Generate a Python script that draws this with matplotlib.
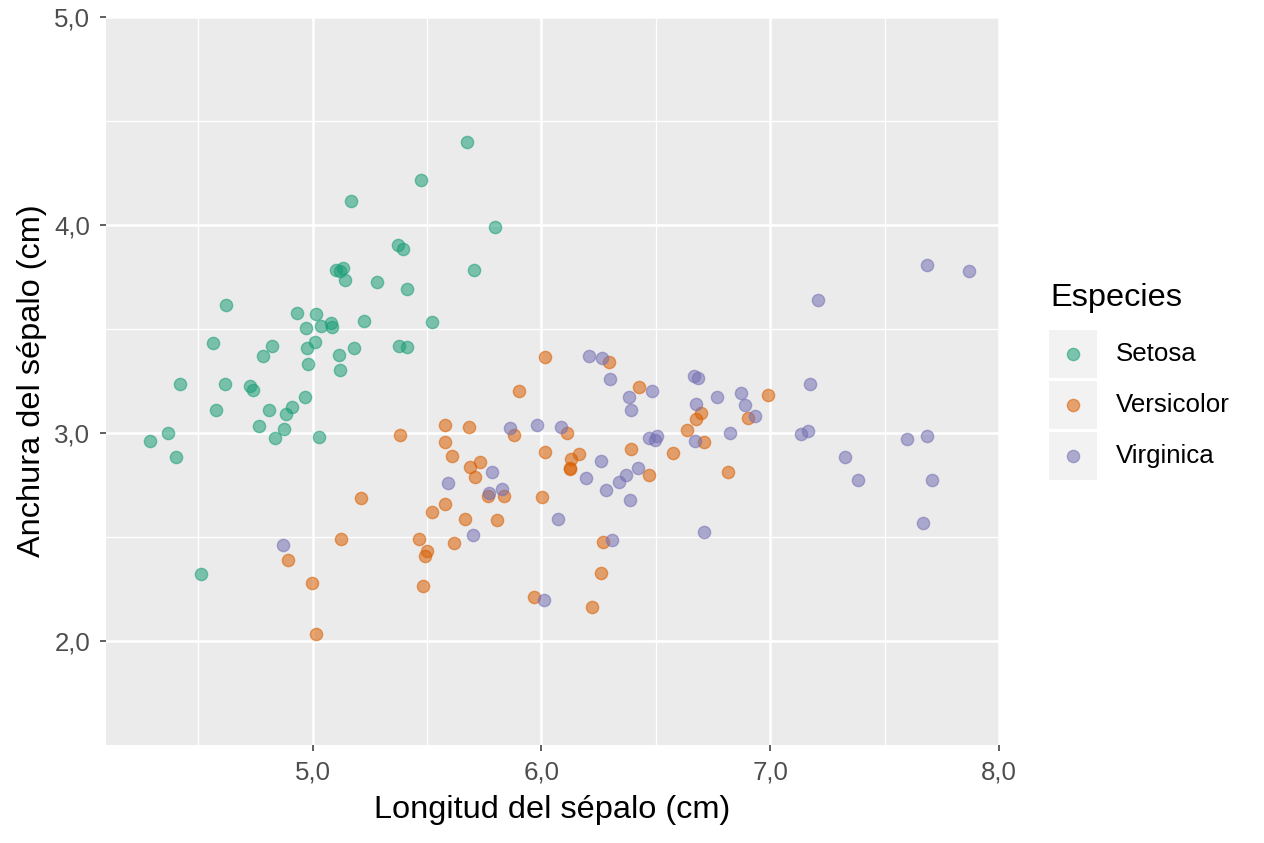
import numpy as np
import matplotlib
matplotlib.use("Agg")
import matplotlib.pyplot as plt
from matplotlib.patches import Rectangle
from matplotlib.lines import Line2D
from matplotlib.ticker import FixedLocator, FuncFormatter

plt.rcParams['font.family'] = ['Liberation Sans', 'DejaVu Sans']

species = ['Setosa', 'Versicolor', 'Virginica']
colors = ['#1B9E77', '#D95F02', '#7570B3']

# sepal length / width (jittered)
setosa_x = [4.289, 4.368, 4.403, 4.420, 4.512, 4.564, 4.577, 4.617, 4.621, 4.726,
            4.739, 4.765, 4.782, 4.809, 4.822, 4.835, 4.875, 4.883, 4.910, 4.931,
            4.966, 4.971, 4.975, 4.979, 5.014, 5.010, 5.028, 5.036, 5.080, 5.084,
            5.102, 5.132, 5.119, 5.115, 5.119, 5.141, 5.167, 5.181, 5.224, 5.281,
            5.373, 5.395, 5.377, 5.412, 5.412, 5.473, 5.521, 5.674, 5.705, 5.797]
setosa_y = [2.962, 3.000, 2.885, 3.235, 2.323, 3.432, 3.110, 3.235, 3.615, 3.226,
            3.206, 3.034, 3.370, 3.110, 3.418, 2.976, 3.019, 3.091, 3.125, 3.576,
            3.173, 3.504, 3.408, 3.331, 3.571, 3.437, 2.981, 3.514, 3.528, 3.509,
            3.783, 3.792, 3.778, 3.374, 3.302, 3.735, 4.114, 3.408, 3.538, 3.725,
            3.903, 3.883, 3.418, 3.413, 3.691, 4.215, 3.533, 4.397, 3.783, 3.989]

versicolor_x = [4.892, 4.997, 5.014, 5.124, 5.211, 5.382, 5.465, 5.500, 5.491, 5.482,
                5.521, 5.578, 5.578, 5.609, 5.578, 5.618, 5.666, 5.683, 5.688, 5.709,
                5.731, 5.766, 5.806, 5.836, 5.880, 5.902, 5.967, 6.002, 6.015, 6.015,
                6.221, 6.112, 6.129, 6.164, 6.125, 6.125, 6.269, 6.260, 6.295, 6.391,
                6.426, 6.470, 6.575, 6.636, 6.675, 6.697, 6.710, 6.815, 6.903, 6.990]
versicolor_y = [2.390, 2.280, 2.035, 2.491, 2.688, 2.990, 2.491, 2.434, 2.410, 2.265,
                2.621, 3.038, 2.957, 2.890, 2.659, 2.472, 2.587, 3.029, 2.837, 2.789,
                2.861, 2.698, 2.582, 2.698, 2.990, 3.202, 2.213, 2.693, 2.909, 3.365,
                2.165, 3.000, 2.875, 2.899, 2.832, 2.827, 2.477, 2.328, 3.341, 2.923,
                3.221, 2.798, 2.904, 3.014, 3.067, 3.096, 2.957, 2.813, 3.072, 3.182]

virginica_x = [4.870, 5.591, 5.700, 5.770, 5.784, 5.827, 5.862, 5.980, 6.085, 6.072,
               6.011, 6.208, 6.264, 6.299, 6.382, 6.391, 6.483, 6.260, 6.194, 6.282,
               6.339, 6.369, 6.422, 6.387, 6.308, 6.470, 6.496, 6.505, 6.667, 6.684,
               6.675, 6.671, 6.767, 6.710, 6.824, 6.872, 6.889, 6.933, 7.174, 7.134,
               7.165, 7.209, 7.327, 7.384, 7.598, 7.685, 7.707, 7.668, 7.685, 7.869]
virginica_y = [2.462, 2.760, 2.510, 2.712, 2.813, 2.731, 3.024, 3.038, 3.029, 2.587,
               2.198, 3.370, 3.360, 3.259, 3.173, 3.110, 3.202, 2.866, 2.784, 2.726,
               2.765, 2.798, 2.832, 2.678, 2.486, 2.976, 2.966, 2.986, 3.274, 3.264,
               3.139, 2.962, 3.173, 2.525, 3.000, 3.192, 3.134, 3.082, 3.235, 2.995,
               3.010, 3.639, 2.885, 2.774, 2.971, 2.986, 2.774, 2.568, 3.807, 3.778]

xs = [setosa_x, versicolor_x, virginica_x]
ys = [setosa_y, versicolor_y, virginica_y]

fig = plt.figure(figsize=(12.64, 8.43), dpi=100)
ax = fig.add_axes([106 / 1264, 98 / 843, 893 / 1264, 728 / 843])
ax.set_facecolor('#EBEBEB')

for x, y, c in zip(xs, ys, colors):
    ax.scatter(x, y, s=78, c=c, alpha=0.55, edgecolors=c, linewidths=1.0, zorder=3)

ax.set_xlim(4.097, 8.0)
ax.set_ylim(1.5, 5.0)

ax.xaxis.set_major_locator(FixedLocator([5, 6, 7, 8]))
ax.xaxis.set_minor_locator(FixedLocator([4.5, 5.5, 6.5, 7.5]))
ax.yaxis.set_major_locator(FixedLocator([2, 3, 4, 5]))
ax.yaxis.set_minor_locator(FixedLocator([2.5, 3.5, 4.5]))
fmt = FuncFormatter(lambda v, p: f'{v:.1f}'.replace('.', ','))
ax.xaxis.set_major_formatter(fmt)
ax.yaxis.set_major_formatter(fmt)

ax.grid(which='major', color='white', linewidth=1.8)
ax.grid(which='minor', color='white', linewidth=0.9)
ax.set_axisbelow(True)
for s in ax.spines.values():
    s.set_visible(False)

ax.tick_params(which='major', length=4.5, width=1.1, color='#333333',
               labelsize=18.6, labelcolor='#4D4D4D', pad=7)
ax.tick_params(which='minor', length=0)

ax.set_xlabel('Longitud del sépalo (cm)', fontsize=23.4, labelpad=7)
ax.set_ylabel('Anchura del sépalo (cm)', fontsize=23.4, labelpad=5)

# legend drawn by hand, ggplot style
W, H = 1264, 843
fig.text(1050 / W, 1 - 298 / H, 'Especies', fontsize=23.4, va='center', ha='left')
for i, (name, c) in enumerate(zip(species, colors)):
    cy = 353.7 + i * 51.2
    fig.add_artist(Rectangle(((1073.3 - 24) / W, 1 - (cy + 24) / H), 48 / W, 48 / H,
                             transform=fig.transFigure, facecolor='#F2F2F2',
                             edgecolor='none'))
    fig.add_artist(Line2D([1073.3 / W], [1 - cy / H], transform=fig.transFigure,
                          marker='o', markersize=8.8, color=c, alpha=0.55,
                          markeredgecolor=c, markeredgewidth=1.0, linestyle='none'))
    fig.text(1116 / W, 1 - cy / H, name, fontsize=18.6, va='center', ha='left')

fig.savefig('out.png', dpi=100)
